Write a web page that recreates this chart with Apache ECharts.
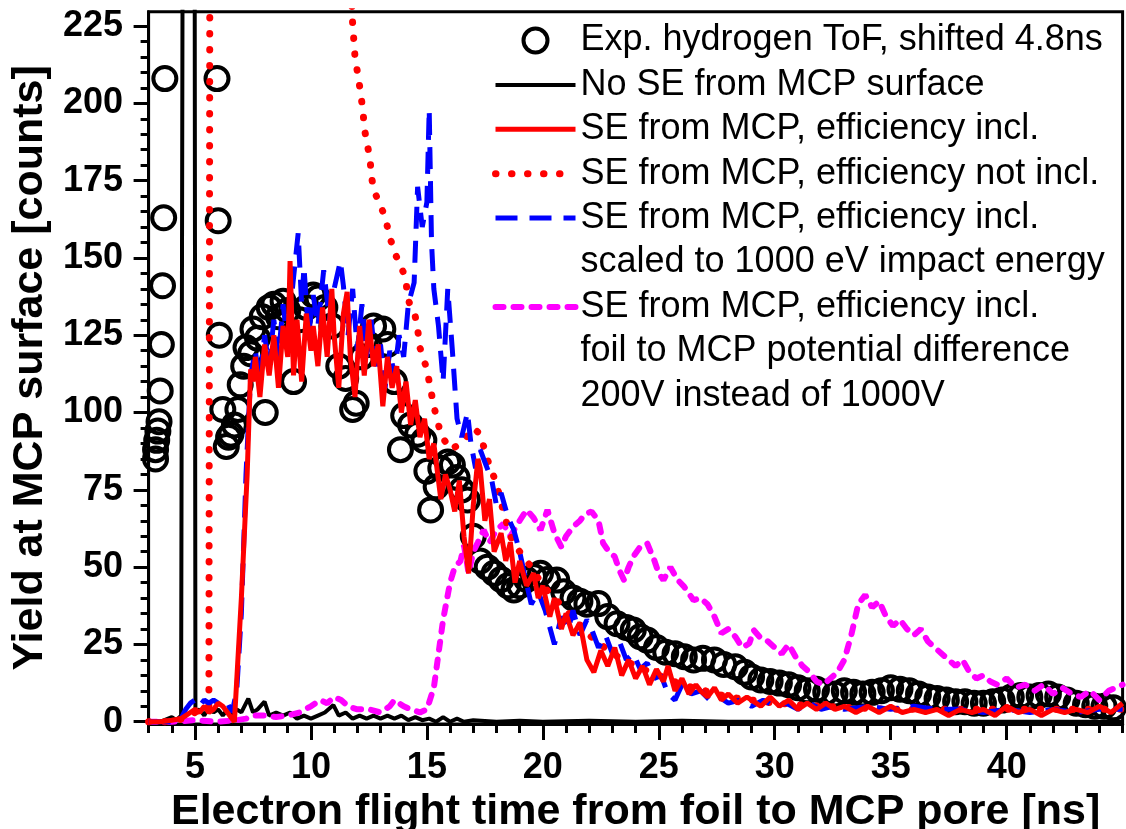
<!DOCTYPE html>
<html>
<head>
<meta charset="utf-8">
<title>Electron flight time vs yield at MCP surface</title>
<script src="https://cdn.jsdelivr.net/npm/echarts@6/dist/echarts.min.js"></script>
<style>
  html, body { margin: 0; padding: 0; background: #fff; }
  #chart { width: 1126px; height: 829px; }
</style>
</head>
<body>
<div id="chart"></div>
<script>
const FONT = 'Liberation Sans, Arial, Helvetica, sans-serif'

// tick positions
const xMajorTicks = [5, 10, 15, 20, 25, 30, 35, 40]
const xMinorTicks = [3, 4, 5, 6, 7, 8, 9, 10, 11, 12, 13, 14, 15, 16, 17, 18, 19, 20, 21, 22, 23, 24,
  25, 26, 27, 28, 29, 30, 31, 32, 33, 34, 35, 36, 37, 38, 39, 40, 41, 42, 43, 44, 45]
const yMajorTicks = [0, 25, 50, 75, 100, 125, 150, 175, 200, 225]
const yMinorTicks = [0, 5, 10, 15, 20, 25, 30, 35, 40, 45, 50, 55, 60, 65, 70, 75, 80, 85, 90, 95, 100,
  105, 110, 115, 120, 125, 130, 135, 140, 145, 150, 155, 160, 165, 170, 175, 180, 185, 190, 195, 200,
  205, 210, 215, 220, 225]

// Exp. hydrogen ToF, shifted 4.8ns  [ns, counts]
const expPoints = [
  [3.3, 85], [3.3, 88], [3.35, 91], [3.4, 94], [3.45, 97], [3.5, 107], [3.55, 122], [3.6, 141], [3.65, 163], [3.7, 208],
  [5.95, 208], [6.0, 162], [6.05, 125], [6.2, 101], [6.35, 89], [6.45, 92], [6.55, 93], [6.7, 96], [6.85, 101],
  [6.95, 109], [7.1, 115], [7.2, 121], [7.4, 119], [7.5, 127], [7.7, 124], [7.9, 131], [8.03, 100], [8.2, 134],
  [8.4, 135], [8.6, 131], [8.8, 136], [9.0, 133], [9.25, 110], [9.5, 130], [9.8, 134], [10.1, 138], [10.3, 137],
  [10.6, 134], [10.9, 128], [11.2, 115], [11.5, 111], [11.8, 101], [11.95, 103], [12.2, 118], [12.5, 122],
  [12.7, 128], [13.1, 127], [13.3, 122], [13.6, 110], [13.86, 88], [14.0, 99], [14.3, 96], [14.6, 93], [14.87, 91],
  [15.0, 81], [15.16, 68.5], [15.4, 76], [15.6, 82], [15.9, 84], [16.1, 83], [16.3, 79], [16.5, 75], [16.75, 71.7],
  [17.0, 60], [17.3, 52], [17.6, 50], [17.9, 48], [18.2, 46], [18.5, 44], [18.75, 42.6], [19.0, 44], [19.3, 46],
  [19.6, 47], [19.9, 48], [20.2, 46], [20.6, 45.8], [20.9, 42], [21.3, 40], [21.6, 39], [21.9, 38], [22.4, 38.2],
  [22.8, 34], [23.2, 31.7], [23.6, 30.5], [23.9, 29.7], [24.2, 27.5], [24.5, 26.4], [24.9, 24], [25.3, 22.5],
  [25.7, 22], [26.1, 21], [26.5, 20], [26.9, 20.5], [27.4, 20], [27.8, 18.5], [28.3, 17.8], [28.7, 16], [29.0, 14.5],
  [29.4, 13.5], [29.8, 13], [30.2, 12.5], [30.6, 12], [31.0, 11], [31.4, 10], [31.8, 10.5], [32.2, 9.5], [32.6, 9],
  [33.0, 10], [33.4, 9.5], [33.8, 9], [34.2, 9.5], [34.6, 10], [35.0, 11], [35.4, 10.5], [35.8, 10], [36.2, 9],
  [36.6, 8], [37.0, 7.5], [37.4, 7], [37.8, 6.5], [38.2, 6.5], [38.6, 6], [39.0, 6], [39.4, 6.5], [39.8, 7],
  [40.2, 8], [40.6, 8.5], [41.0, 8], [41.4, 8.5], [41.8, 9], [42.2, 8], [42.6, 7], [43.0, 6], [43.4, 5.5],
  [43.8, 5], [44.2, 5], [44.6, 4.5]
]

// No SE from MCP surface (peak at 4.5-5 ns goes off scale)
const noSeLine = [
  [3, 0], [3.5, 0], [4.0, 1.5], [4.2, 0.5], [4.4, 2], [4.48, 300], [4.98, 300], [5.02, 3], [5.2, 4], [5.4, 2],
  [5.6, 5], [5.8, 3], [6.0, 4], [6.2, 2], [6.4, 4], [6.6, 2], [6.8, 4], [7.0, 3], [7.3, 7.5], [7.5, 3], [7.7, 4],
  [8.0, 6.5], [8.2, 2], [8.5, 3], [8.8, 2], [9.1, 3], [9.4, 1], [9.7, 2], [10.0, 1], [10.3, 2], [10.6, 3],
  [10.97, 5.4], [11.2, 2], [11.5, 3], [11.8, 1], [12.1, 2], [12.4, 1], [12.7, 2], [13.0, 1], [13.3, 2], [13.6, 1],
  [13.9, 2], [14.2, 0.5], [14.5, 1.5], [14.8, 0.5], [15.1, 1], [15.4, 0], [15.7, 1.5], [16.0, 0], [16.3, 1],
  [16.6, 0], [17, 0.5], [18, 0], [19, 0.3], [20, 0], [22, 0.3], [24, 0], [26, 0.3], [28, 0], [30, 0], [45, 0]
]

// SE from MCP, efficiency incl.
const seInclLine = [
  [3, 0], [3.5, 0], [4, 0.5], [4.4, 1], [4.6, 2], [4.8, 3], [5.0, 4], [5.2, 3], [5.4, 5], [5.6, 3], [5.8, 4],
  [6.0, 6], [6.2, 5], [6.4, 3], [6.6, 1], [6.7, 0], [7.0, 40], [7.25, 80], [7.4, 114], [7.5, 110], [7.6, 118],
  [7.8, 105], [8.0, 122], [8.2, 112], [8.4, 125], [8.6, 108], [8.8, 128], [9.0, 118], [9.1, 149], [9.25, 112],
  [9.4, 130], [9.6, 110], [9.8, 132], [10.0, 120], [10.1, 128], [10.3, 115], [10.5, 134], [10.7, 118], [10.9, 140],
  [11.0, 125], [11.2, 108], [11.4, 132], [11.56, 139], [11.7, 118], [11.9, 105], [12.1, 128], [12.3, 112],
  [12.5, 130], [12.7, 115], [12.9, 122], [13.1, 102], [13.3, 118], [13.5, 108], [13.7, 115], [13.9, 100],
  [14.1, 110], [14.3, 96], [14.5, 104], [14.7, 92], [14.9, 98], [15.1, 85], [15.3, 90], [15.6, 72], [15.8, 80],
  [16.0, 75], [16.2, 68], [16.4, 78], [16.6, 60], [16.8, 48], [17.0, 70], [17.2, 85], [17.3, 82], [17.5, 65],
  [17.7, 72], [17.9, 55], [18.2, 61], [18.4, 52], [18.6, 58], [18.8, 45], [19.0, 52], [19.3, 44], [19.6, 48],
  [19.8, 40], [20.0, 44], [20.3, 34], [20.5, 40], [20.8, 30], [21.0, 35], [21.3, 28], [21.6, 32], [21.9, 20],
  [22.2, 16], [22.5, 23], [22.8, 18], [23.1, 24], [23.4, 15], [23.7, 20], [24.0, 14], [24.3, 18], [24.6, 12],
  [24.9, 17], [25.2, 13], [25.4, 18], [25.7, 10], [26.0, 14], [26.3, 9], [26.6, 12], [26.8, 10], [27.1, 8],
  [27.4, 11], [27.7, 7], [28.0, 9], [28.4, 6], [28.8, 8], [29.0, 7], [29.4, 5], [29.8, 8], [30.2, 5], [30.6, 7],
  [31.0, 4], [31.4, 6], [31.8, 4], [32.2, 6], [32.6, 4], [33.0, 5], [33.5, 3], [34.0, 5], [34.5, 3], [35.0, 5],
  [35.5, 3], [36.0, 4], [36.5, 3], [37.0, 4], [37.5, 2], [38.0, 4], [38.5, 3], [39.0, 4], [39.5, 2], [40.0, 5],
  [40.5, 3], [41.0, 4], [41.5, 2], [42.0, 4], [42.5, 3], [43.0, 4], [43.5, 3], [44.0, 5], [44.5, 3], [45.0, 6]
]

// SE from MCP, efficiency not incl. (off scale between 5.6 and 11.7 ns)
const seNotInclLine = [
  [3, 0], [4, 0], [4.5, 1], [5.0, 3], [5.4, 4], [5.6, 5], [5.65, 300], [11.7, 300], [11.77, 229], [11.9, 215],
  [12.05, 208], [12.15, 203], [12.25, 197], [12.3, 192], [12.42, 187], [12.55, 182], [12.6, 177], [12.7, 172],
  [13.0, 167], [13.2, 163], [13.3, 160], [13.43, 156], [13.65, 151], [13.9, 147], [14.1, 143], [14.15, 138],
  [14.3, 134], [14.5, 131], [14.6, 127], [14.7, 121], [15.0, 114], [15.3, 102], [15.6, 93], [16.0, 88], [16.5, 90],
  [17.0, 95], [17.3, 93], [17.6, 85], [18.0, 77], [18.3, 68], [18.6, 60], [19.0, 55], [19.5, 50], [20, 44],
  [20.5, 40], [21, 36], [21.5, 32], [22, 28], [22.5, 25], [23, 22], [24, 18], [25, 15], [26, 12], [27, 10],
  [28, 8], [29, 7], [30, 6], [32, 5], [35, 4], [40, 4], [45, 4]
]

// SE from MCP, efficiency incl., scaled to 1000 eV impact energy
const seScaledLine = [
  [3, 0], [4, 0], [4.4, 1], [4.6, 4], [4.8, 6], [5.0, 7], [5.2, 5], [5.4, 7], [5.6, 6], [5.8, 7], [6.0, 6],
  [6.2, 7], [6.4, 6], [6.6, 3], [6.8, 10], [7.0, 35], [7.2, 80], [7.4, 112], [7.6, 120], [7.8, 110], [8.0, 125],
  [8.2, 115], [8.4, 130], [8.6, 118], [8.8, 135], [9.0, 122], [9.2, 140], [9.45, 158], [9.6, 135], [9.7, 147],
  [9.9, 125], [10.1, 138], [10.3, 128], [10.55, 146], [10.8, 130], [11.0, 140], [11.27, 149], [11.4, 141],
  [11.6, 125], [11.8, 140], [12.0, 120], [12.2, 135], [12.4, 118], [12.6, 130], [12.8, 115], [13.0, 122],
  [13.2, 108], [13.4, 120], [13.6, 112], [13.8, 125], [14.0, 118], [14.2, 135], [14.45, 142], [14.6, 173],
  [14.8, 160], [15.0, 168], [15.1, 198], [15.2, 155], [15.3, 140], [15.5, 128], [15.7, 110], [15.9, 140],
  [16.1, 120], [16.3, 98], [16.5, 92], [16.75, 100], [16.9, 90], [17.1, 82], [17.3, 88], [17.5, 84], [17.8, 78],
  [18.0, 70], [18.2, 74], [18.5, 66], [18.75, 62], [19.0, 55], [19.2, 48], [19.5, 38], [19.8, 42], [20.1, 36],
  [20.5, 25], [20.8, 34], [21.1, 30], [21.3, 36], [21.6, 28], [21.9, 33], [22.1, 30], [22.4, 24], [22.7, 28],
  [23.0, 22], [23.3, 26], [23.6, 20], [23.9, 22], [24.2, 17], [24.5, 19], [24.8, 14], [25.1, 15], [25.4, 9],
  [25.7, 7], [26.0, 12], [26.4, 9], [26.8, 10], [27.2, 7], [27.6, 8], [28.0, 6], [28.5, 7], [29.0, 5], [29.5, 7],
  [30.0, 5], [30.5, 6], [31.0, 4], [31.5, 6], [32.0, 4], [32.5, 5], [33.0, 4], [34.0, 5], [35.0, 4], [36.0, 5],
  [37.0, 4], [38.0, 4], [39.0, 3], [40.0, 4], [41.0, 3], [42.0, 4], [43.0, 3], [44.0, 4], [45.0, 4]
]

// SE from MCP, efficiency incl., 200V instead of 1000V
const se200vLine = [
  [3, 0], [4, 0], [5, 0.5], [6, 0], [6.8, 0.5], [7.2, 1], [7.5, 2], [8.0, 2], [8.5, 1.5], [9.0, 2], [9.5, 3],
  [10.0, 5], [10.4, 7], [10.7, 6], [11.0, 8], [11.3, 7], [11.6, 5], [12.0, 4], [12.5, 4], [13.0, 3], [13.4, 5],
  [13.6, 7], [14.0, 5], [14.3, 4], [14.7, 3], [15.0, 4], [15.3, 11], [15.5, 22], [15.7, 33], [16.0, 45],
  [16.2, 50], [16.45, 52], [16.6, 57], [16.8, 48], [17.0, 55], [17.2, 58], [17.45, 62], [17.7, 58], [18.0, 62],
  [18.3, 64], [18.6, 60], [19.0, 65], [19.3, 68.5], [19.6, 66], [19.9, 62], [20.2, 68.5], [20.5, 61], [20.8, 56.5],
  [21.0, 60], [21.3, 63], [21.6, 65], [21.8, 67], [22.1, 68], [22.4, 65], [22.6, 57.7], [22.85, 55], [23.1, 53.4],
  [23.3, 49], [23.5, 45.8], [23.7, 50], [23.9, 53.4], [24.2, 56.6], [24.5, 57.7], [24.8, 52.3], [25.0, 48],
  [25.2, 45.8], [25.5, 50], [25.8, 46], [26.1, 43.6], [26.5, 39.3], [26.8, 40], [27.1, 38], [27.4, 34],
  [27.7, 28.6], [28.0, 30], [28.3, 27.5], [28.6, 24], [28.9, 25.3], [29.1, 29.6], [29.4, 27], [29.7, 26],
  [30.0, 24], [30.3, 22], [30.6, 25], [30.9, 21], [31.2, 18], [31.5, 16], [31.8, 13], [32.1, 12], [32.4, 14],
  [32.7, 16], [33.0, 20], [33.3, 28], [33.6, 38], [33.9, 41], [34.2, 37], [34.5, 39], [34.8, 34], [35.1, 31],
  [35.4, 33], [35.7, 30], [36.0, 28], [36.3, 30], [36.6, 26], [36.9, 24], [37.2, 22], [37.5, 20], [37.8, 18],
  [38.1, 20], [38.4, 16], [38.7, 14], [39.0, 15], [39.3, 13], [39.6, 12], [40.0, 14], [40.4, 11], [40.8, 12],
  [41.2, 10], [41.6, 12], [42.0, 9], [42.4, 11], [42.8, 9], [43.2, 8], [43.6, 10], [44.0, 7], [44.4, 10], [45.0, 12]
]

const names = {
  exp: 'Exp. hydrogen ToF, shifted 4.8ns',
  noSe: 'No SE from MCP surface',
  incl: 'SE from MCP, efficiency incl.',
  notIncl: 'SE from MCP, efficiency not incl.',
  scaled: 'SE from MCP, efficiency incl. ',
  scaled2: 'scaled to 1000 eV impact energy',
  v200: 'SE from MCP, efficiency incl.  ',
  v2002: 'foil to MCP potential difference',
  v2003: '200V instead of 1000V'
}

const chart = echarts.init(document.getElementById('chart'))

function lineSeries (name, data, color, width, type, cap, z) {
  return {
    name: name,
    type: 'line',
    data: data,
    symbol: 'none',
    showSymbol: false,
    clip: true,
    z: z,
    lineStyle: { color: color, width: width, type: type, cap: cap },
    itemStyle: { color: color }
  }
}

// placeholder series so the continuation lines of the legend get a row each
function textOnly (name) {
  return {
    name: name,
    type: 'line',
    data: [],
    symbol: 'none',
    lineStyle: { width: 0, opacity: 0 },
    itemStyle: { opacity: 0 }
  }
}

// legend entry showing only the line sample (no marker)
function legendLine (name, width) {
  return { name: name, itemStyle: { opacity: 0 }, lineStyle: { width: width } }
}

const axisFont = { fontSize: 36, fontWeight: 'bold', color: '#000', fontFamily: FONT }
const titleFont = { fontSize: 43, fontWeight: 'bold', color: '#000', fontFamily: FONT }

chart.setOption({
  animation: false,
  backgroundColor: '#fff',
  grid: {
    left: 148.6,
    right: 3.4,
    top: 11.8,
    bottom: 105.1,
    show: true,
    borderColor: '#000',
    borderWidth: 3,
    containLabel: false,
    outerBoundsMode: 'none'
  },
  legend: {
    orient: 'vertical',
    left: 492,
    top: 18.3,
    padding: 0,
    itemGap: 0,
    itemWidth: 80,
    itemHeight: 24,
    selectedMode: false,
    textStyle: { fontSize: 36, lineHeight: 44.4, color: '#000', fontFamily: FONT },
    data: [
      { name: names.exp, icon: 'circle', itemStyle: { color: 'rgba(0,0,0,0)', borderColor: '#000', borderWidth: 4, opacity: 1 } },
      legendLine(names.noSe, 4),
      legendLine(names.incl, 5),
      legendLine(names.notIncl, 7),
      legendLine(names.scaled, 5),
      legendLine(names.scaled2, 0),
      legendLine(names.v200, 6),
      legendLine(names.v2002, 0),
      legendLine(names.v2003, 0)
    ]
  },
  xAxis: [
    {
      type: 'value',
      min: 3,
      max: 45,
      position: 'bottom',
      name: 'Electron flight time from foil to MCP pore [ns]',
      nameLocation: 'middle',
      nameGap: 60,
      nameTextStyle: titleFont,
      axisLine: { onZero: false, lineStyle: { color: '#000', width: 3 } },
      axisTick: { customValues: xMajorTicks, length: 16, lineStyle: { color: '#000', width: 3 } },
      axisLabel: Object.assign({ customValues: xMajorTicks, margin: 26 }, axisFont),
      splitLine: { show: false }
    },
    {
      type: 'value',
      min: 3,
      max: 45,
      position: 'bottom',
      axisLine: { show: false, onZero: false },
      axisTick: { customValues: xMinorTicks, length: 9, lineStyle: { color: '#000', width: 3 } },
      axisLabel: { show: false },
      splitLine: { show: false }
    }
  ],
  yAxis: [
    {
      type: 'value',
      min: -0.7,
      max: 229.6,
      position: 'left',
      name: 'Yield at MCP surface [counts]',
      nameLocation: 'middle',
      nameGap: 96,
      nameTextStyle: titleFont,
      axisLine: { show: true, onZero: false, lineStyle: { color: '#000', width: 3 } },
      axisTick: { customValues: yMajorTicks, length: 15, lineStyle: { color: '#000', width: 3 } },
      axisLabel: Object.assign({ customValues: yMajorTicks, margin: 25.6 }, axisFont),
      splitLine: { show: false }
    },
    {
      type: 'value',
      min: -0.7,
      max: 229.6,
      position: 'left',
      axisLine: { show: false, onZero: false },
      axisTick: { customValues: yMinorTicks, length: 8, lineStyle: { color: '#000', width: 3 } },
      axisLabel: { show: false },
      splitLine: { show: false }
    }
  ],
  series: [
    {
      name: names.exp,
      type: 'scatter',
      data: expPoints,
      symbol: 'circle',
      symbolSize: 23,
      clip: true,
      z: 2,
      itemStyle: { color: 'rgba(0,0,0,0)', borderColor: '#000', borderWidth: 4, opacity: 1 }
    },
    lineSeries(names.noSe, noSeLine, '#000', 4, 'solid', 'butt', 3),
    lineSeries(names.incl, seInclLine, '#ff0000', 5, 'solid', 'butt', 6),
    lineSeries(names.notIncl, seNotInclLine, '#ff0000', 7, [0.5, 15.5], 'round', 4),
    lineSeries(names.scaled, seScaledLine, '#0000ff', 5, [22, 12], 'butt', 5),
    textOnly(names.scaled2),
    lineSeries(names.v200, se200vLine, '#ff00ff', 6, [8, 10], 'round', 3),
    textOnly(names.v2002),
    textOnly(names.v2003)
  ]
})
</script>
</body>
</html>
